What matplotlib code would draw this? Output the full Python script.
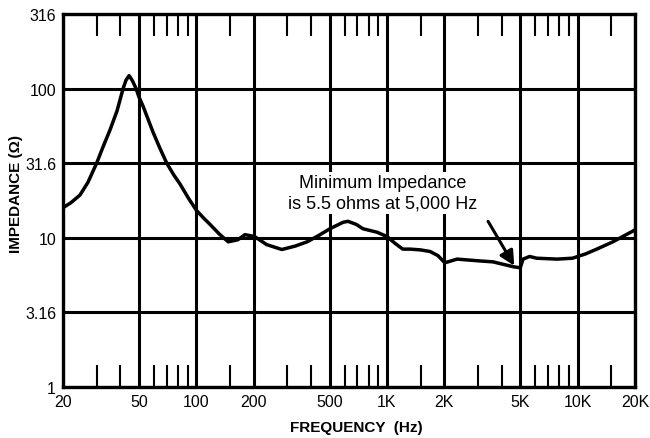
import matplotlib
matplotlib.use("Agg")
from matplotlib import pyplot as plt
from matplotlib.ticker import FixedLocator, NullFormatter

plt.rcParams['font.family'] = ['Liberation Sans', 'DejaVu Sans']

# impedance curve
freq = [20, 22, 24.5, 27, 30, 32.4, 35.3, 38.4, 41.3, 42.8, 44.4, 46.2, 48.3, 50, 52.6, 59.3,
        64.6, 70, 76, 82, 91, 100, 109, 118, 132, 147, 165, 180, 202, 234, 281, 330, 381,
        440, 502, 588, 624, 690, 748, 887, 1000, 1100, 1210, 1320, 1500, 1680, 1850,
        2010, 2330, 3070, 3600, 4600, 5000, 5170, 5600, 6100, 7800, 9400, 11000, 12600,
        15300, 20000]
impedance = [15.9, 17.2, 19.3, 23.5, 31.6, 40.6, 53, 71, 100, 114, 122, 113, 100, 88, 76,
             51, 39.5, 31.6, 26.5, 23, 18.4, 15.3, 13.6, 12.3, 10.6, 9.4, 9.7, 10.5, 10.2,
             9.0, 8.35, 8.8, 9.4, 10.4, 11.5, 12.7, 12.9, 12.3, 11.5, 10.9, 10.2, 9.2, 8.4,
             8.4, 8.3, 8.1, 7.6, 6.8, 7.2, 7.0, 6.9, 6.4, 6.3, 7.2, 7.5, 7.3, 7.2, 7.3, 7.8,
             8.4, 9.4, 11.3]

x_ticks = [20, 50, 100, 200, 500, 1000, 2000, 5000, 10000, 20000]
x_labels = ['20', '50', '100', '200', '500', '1K', '2K', '5K', '10K', '20K']
x_minor = [30, 40, 60, 70, 80, 90, 150, 300, 400, 600, 700, 800, 900, 1500,
           3000, 4000, 6000, 7000, 8000, 9000, 15000]
y_ticks = [1, 3.16, 10, 31.6, 100, 316.2]
y_labels = ['1', '3.16', '10', '31.6', '100', '316']

fig = plt.figure(figsize=(6.5, 4.39), dpi=100)
ax = fig.add_axes([0.097, 0.116, 0.880, 0.850])

ax.set_xscale('log')
ax.set_yscale('log')
ax.set_xlim(20, 20000)
ax.set_ylim(1, 316.2)

ax.xaxis.set_major_locator(FixedLocator(x_ticks))
ax.set_xticklabels(x_labels)
ax.xaxis.set_minor_locator(FixedLocator(x_minor))
ax.xaxis.set_minor_formatter(NullFormatter())
ax.yaxis.set_major_locator(FixedLocator(y_ticks))
ax.set_yticklabels(y_labels)
ax.yaxis.set_minor_locator(FixedLocator([]))

ax.grid(True, which='major', color='black', linewidth=2.2)
ax.tick_params(which='major', length=0, labelsize=11.5, pad=5)
ax.tick_params(axis='x', which='minor', direction='in', length=16, width=1.5,
               top=True, bottom=True, color='black')

for s in ax.spines.values():
    s.set_linewidth(2.4)
    s.set_color('black')

ax.plot(freq, impedance, color='black', linewidth=2.5, solid_joinstyle='round',
        solid_capstyle='round', zorder=5)

ax.text(950, 20, 'Minimum Impedance\nis 5.5 ohms at 5,000 Hz', ha='center', va='center',
        fontsize=13, linespacing=1.25, zorder=6,
        bbox=dict(facecolor='white', edgecolor='none', pad=2))
ax.annotate('', xy=(4650, 6.5), xytext=(3390, 12.9),
            arrowprops=dict(arrowstyle='-|>', color='black', lw=2.2, mutation_scale=22,
                            shrinkA=0, shrinkB=0), zorder=6)

ax.set_xlabel('FREQUENCY  (Hz)', fontsize=11, fontweight='bold')
ax.xaxis.set_label_coords(0.512, -0.088)
ax.set_ylabel('IMPEDANCE (Ω)', fontsize=11, fontweight='bold')
ax.yaxis.set_label_coords(-0.07, 0.52)

fig.savefig('out.png', dpi=100)
